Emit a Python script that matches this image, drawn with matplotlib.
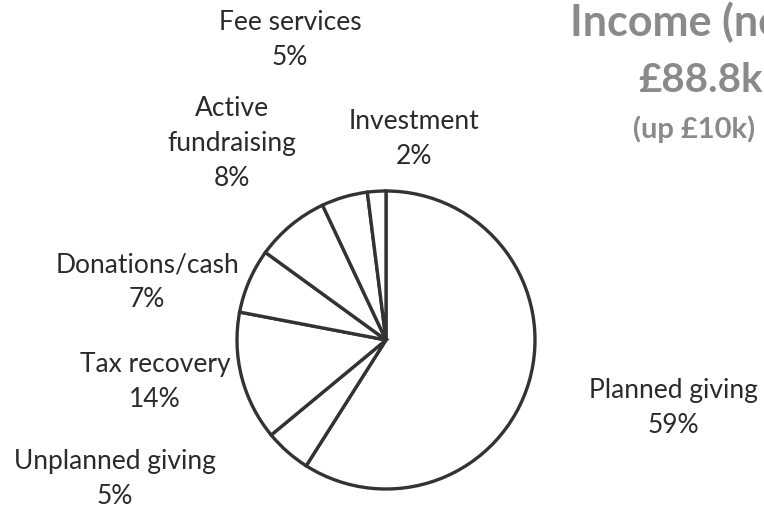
import matplotlib.pyplot as plt

# income breakdown, clockwise from 12 o'clock
categories = ['Planned giving', 'Unplanned giving', 'Tax recovery',
              'Donations/cash', 'Active fundraising', 'Fee services', 'Investment']
shares = [59, 5, 14, 7, 8, 5, 2]
label_text = ['Planned giving', 'Unplanned giving', 'Tax recovery',
              'Donations/cash', 'Active\nfundraising', 'Fee services', 'Investment']
title_lines = ['Income (net)', '£88.8k', '(up £10k)']

plt.rcParams['font.family'] = ['Lato', 'DejaVu Sans']

W, H = 764, 515
fig = plt.figure(figsize=(W / 100, H / 100), dpi=100)
ax = fig.add_axes([0, 0, 1, 1])

ax.pie(shares, center=(386, H - 340), radius=149, startangle=90, counterclock=False,
       colors=['white'] * len(shares),
       wedgeprops={'edgecolor': '#333333', 'linewidth': 2.4},
       frame=True)
ax.set_xlim(0, W)
ax.set_ylim(0, H)
ax.set_aspect('equal')
ax.axis('off')

# label anchor positions (pixel coords from top-left)
label_pos = {
    'Planned giving': (673, 408),
    'Unplanned giving': (115, 479),
    'Tax recovery': (155, 382),
    'Donations/cash': (147, 282),
    'Active fundraising': (232, 144),
    'Fee services': (290, 40),
    'Investment': (414, 139),
}
for cat, txt, v in zip(categories, label_text, shares):
    x, y = label_pos[cat]
    ax.text(x, H - y, f'{txt}\n{v}%', ha='center', va='center', fontsize=19,
            color='#2a2a2a', linespacing=1.5)

# title block, runs off the right edge like the scan
title_x = [570, 638, 633]
title_y = [22, 80, 129]
title_size = [31, 29, 21]
for line, x, y, s in zip(title_lines, title_x, title_y, title_size):
    ax.text(x, H - y, line, ha='left', va='center', fontsize=s,
            fontweight='bold', color='#8a8a8a', clip_on=True)

fig.savefig('out.png', dpi=100)
